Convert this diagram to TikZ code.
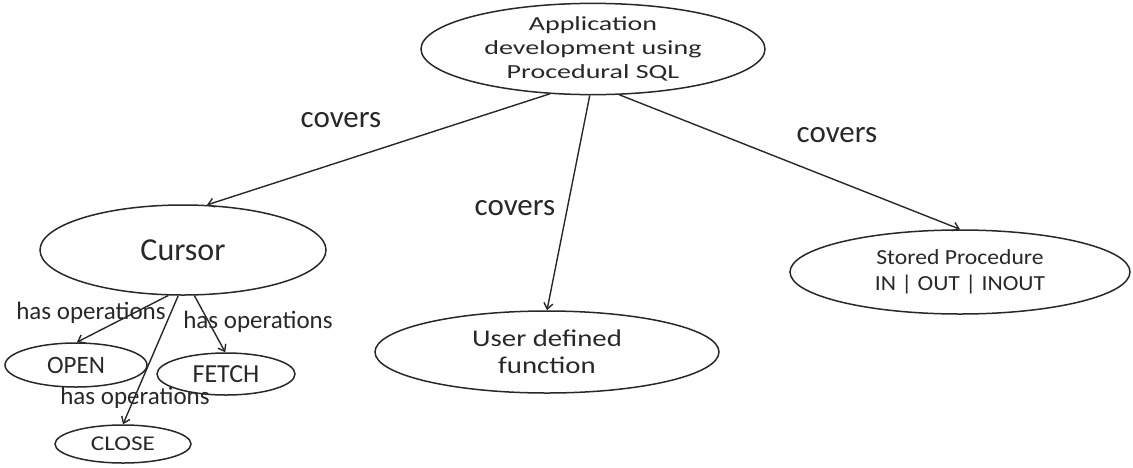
\documentclass[tikz,border=0pt]{standalone}
\usepackage{fontspec}
\setmainfont{Carlito}
\newfontfamily\wideA[FakeStretch=1.4]{Carlito}
\newfontfamily\wideB[FakeStretch=1.2]{Carlito}
\newfontfamily\wideC[FakeStretch=1.1]{Carlito}
\usetikzlibrary{shapes.geometric,arrows.meta}
\definecolor{ink}{RGB}{40,40,40}
\begin{document}
\begin{tikzpicture}[x=1pt,y=-1pt,
  oval/.style={draw=ink,line width=1.5pt,ellipse,inner sep=0pt,text=ink,align=center},
  link/.style={draw=ink,line width=1.4pt,-{Straight Barb[length=6pt,width=9pt]}},
  lbl/.style={text=ink,inner sep=0pt}]
\useasboundingbox (0,0) rectangle (1133,467);
% concept nodes
\node[oval,minimum width=344pt,minimum height=86pt,font=\wideA\fontsize{20}{24}\selectfont] (app) at (593,49)
  {Application\\development using\\Procedural SQL};
\node[oval,minimum width=286pt,minimum height=90pt,font=\fontsize{32}{36}\selectfont] (cur) at (183,250) {Cursor};
\node[oval,minimum width=344pt,minimum height=82pt,font=\wideB\fontsize{24}{27}\selectfont] (udf) at (547,352)
  {User defined\\function};
\node[oval,minimum width=340pt,minimum height=84pt,font=\wideC\fontsize{21.5}{26}\selectfont] (sp) at (960,272)
  {Stored Procedure\\IN | OUT | INOUT};
\node[oval,minimum width=142pt,minimum height=44pt,font=\fontsize{25}{28}\selectfont] (open) at (76,365) {OPEN};
\node[oval,minimum width=138pt,minimum height=42pt,font=\fontsize{26}{29}\selectfont] (fetch) at (226,374) {FETCH};
\node[oval,minimum width=136pt,minimum height=38pt,font=\wideB\fontsize{21}{24}\selectfont] (close) at (123,444) {CLOSE};
% relations
\draw[link] (app.226) -- (cur.62);
\draw[link] (app.266) -- (udf.90);
\draw[link] (app.300) -- (sp.90);
\draw[link] (cur.252) -- (open.88);
\draw[link] (cur.264) -- (close.90);
\draw[link] (cur.284) -- (fetch.92);
% relation labels
\node[lbl,font=\fontsize{31}{34}\selectfont] (l1) at (341,120) {covers};
\node[lbl,font=\fontsize{31}{34}\selectfont] (l2) at (515,208) {covers};
\node[lbl,font=\fontsize{31}{34}\selectfont] (l3) at (837,135) {covers};
\node[lbl,font=\fontsize{25}{28}\selectfont] (l4) at (91,313) {has operations};
\node[lbl,font=\fontsize{25}{28}\selectfont] (l5) at (258,322) {has operations};
\node[lbl,font=\fontsize{25}{28}\selectfont] (l6) at (135,398) {has operations};
\end{tikzpicture}
\end{document}
